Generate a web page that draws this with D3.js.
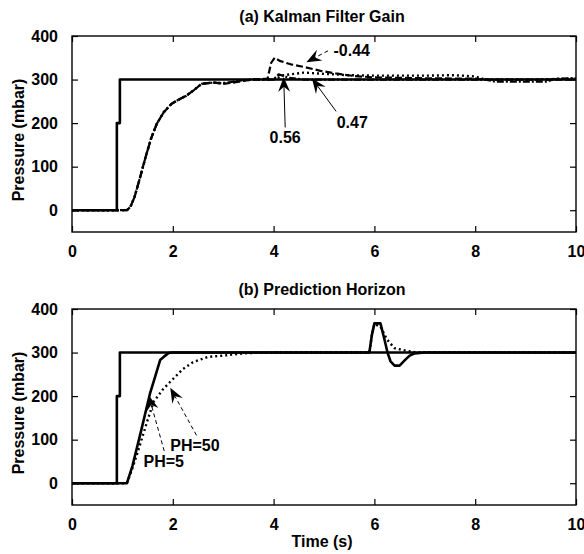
<!DOCTYPE html>
<html>
<head>
<meta charset="utf-8">
<script src="https://cdn.jsdelivr.net/npm/d3@7"></script>
<style>
  html, body { margin: 0; padding: 0; background: #fff; }
  svg { display: block; }
  text { font-family: "Liberation Sans", Arial, sans-serif; font-weight: bold; fill: #000; }
</style>
</head>
<body>
<script>
// ---------- data ----------
const xTicks = [0, 2, 4, 6, 8, 10];
const yTicks = [0, 100, 200, 300, 400];
const xDomain = [0, 10];
const yDomain = [-50, 400];

const titles = ["(a) Kalman Filter Gain", "(b) Prediction Horizon"];
const yLabel = "Pressure (mbar)";
const xLabel = "Time (s)";

// setpoint (both panels)
const setT = [0, 0.89, 0.89, 0.95, 0.95, 10];
const setP = [0, 0, 200, 200, 300, 300];

// panel (a): Kalman filter gain responses
const k044T = [0, 1.09, 1.16, 1.24, 1.35, 1.46, 1.57, 1.68, 1.82, 1.97, 2.12, 2.27, 2.42, 2.57, 2.7, 2.83, 3.0, 3.2, 3.4, 3.6, 3.88, 3.95, 4.02, 4.12, 4.34, 4.64, 4.93, 5.23, 5.6, 6.0, 7.0, 8.0, 8.2, 10];
const k044P = [0, 0, 8, 30, 75, 122, 165, 198, 225, 244, 254, 263, 276, 290, 292, 293, 290, 293, 297, 300, 302, 338, 350, 343, 335, 328, 320, 314, 308, 305, 303, 302, 300, 300];

const k047T = [0, 1.09, 1.16, 1.24, 1.35, 1.46, 1.57, 1.68, 1.82, 1.97, 2.12, 2.27, 2.42, 2.57, 2.7, 2.83, 3.0, 3.2, 3.4, 3.6, 4.0, 4.2, 4.6, 5.0, 5.5, 6.0, 7.0, 7.6, 8.0, 8.2, 9.0, 10];
const k047P = [0, 0, 8, 30, 75, 122, 165, 198, 225, 244, 254, 263, 276, 290, 292, 293, 292, 294, 298, 300, 300, 310, 316, 313, 310, 309, 309, 310, 307, 300, 300, 302];

const k056T = [0, 1.09, 1.16, 1.24, 1.35, 1.46, 1.57, 1.68, 1.82, 1.97, 2.12, 2.27, 2.42, 2.57, 2.7, 2.83, 3.0, 3.2, 3.4, 3.6, 4.0, 4.1, 4.3, 4.6, 5.0, 6.0, 8.2, 8.4, 9.4, 9.6, 10];
const k056P = [0, 0, 8, 30, 75, 122, 165, 198, 225, 244, 254, 263, 276, 290, 292, 293, 291, 295, 299, 300, 300, 312, 304, 300, 300, 300, 300, 295, 295, 302, 303];

// panel (b): prediction horizon responses
const ph5T = [0, 1.09, 1.2, 1.36, 1.55, 1.65, 1.75, 1.85, 1.92, 2.0, 5.9, 5.95, 6.0, 6.12, 6.2, 6.26, 6.32, 6.4, 6.5, 6.6, 6.7, 6.8, 7.0, 10];
const ph5P = [0, 0, 40, 115, 207, 245, 283, 293, 299, 300, 300, 340, 367, 367, 330, 300, 280, 270, 270, 282, 293, 298, 300, 300];

const ph50T = [0, 1.09, 1.2, 1.3, 1.5, 1.62, 1.8, 1.95, 2.2, 2.4, 2.7, 3.0, 3.5, 4.0, 5.9, 5.95, 6.0, 6.12, 6.25, 6.4, 6.6, 6.8, 10];
const ph50P = [0, 0, 35, 70, 145, 187, 215, 233, 262, 278, 290, 293, 299, 300, 300, 340, 365, 360, 330, 310, 305, 301, 300];

// annotations: label text, label position, arrow tail, arrow tip (data units)
const annoA_text = ["0.56", "0.47", "-0.44"];
const annoA_lx = [4.23, 5.56, 5.55];
const annoA_ly = [169, 203, 369];
const annoA_tail = [[4.23, 190], [5.24, 227], [5.08, 366]];
const annoA_tip = [[4.20, 306], [4.76, 303], [4.65, 340]];
const annoA_dashed = [false, false, true];

const annoB_text = ["PH=5", "PH=50"];
const annoB_lx = [1.82, 2.44];
const annoB_ly = [52, 88];
const annoB_tail = [[1.83, 74], [2.47, 110]];
const annoB_tip = [[1.52, 202], [1.95, 219]];
const annoB_dashed = [true, true];

// ---------- layout ----------
const W = 584, H = 554;
const left = 72, right = 576;
const panels = [
  { top: 36, bottom: 232, title: titles[0],
    series: [
      { t: setT, p: setP, width: 2.6, dash: null },
      { t: k056T, p: k056P, width: 2.2, dash: "7,2,2,2" },
      { t: k047T, p: k047P, width: 2.4, dash: "2,3" },
      { t: k044T, p: k044P, width: 2.2, dash: "7,3" }
    ],
    anno: { text: annoA_text, lx: annoA_lx, ly: annoA_ly, tail: annoA_tail, tip: annoA_tip, dashed: annoA_dashed },
    xlabel: false },
  { top: 309, bottom: 505, title: titles[1],
    series: [
      { t: setT, p: setP, width: 2.6, dash: null },
      { t: ph50T, p: ph50P, width: 2.4, dash: "2,3" },
      { t: ph5T, p: ph5P, width: 2.6, dash: null }
    ],
    anno: { text: annoB_text, lx: annoB_lx, ly: annoB_ly, tail: annoB_tail, tip: annoB_tip, dashed: annoB_dashed },
    xlabel: true }
];

const svg = d3.select("body").append("svg").attr("width", W).attr("height", H);

panels.forEach(pn => {
  const x = d3.scaleLinear().domain(xDomain).range([left, right]);
  const y = d3.scaleLinear().domain(yDomain).range([pn.bottom, pn.top]);
  const g = svg.append("g");

  // clip
  const cid = "clip" + pn.top;
  svg.append("clipPath").attr("id", cid).append("rect")
    .attr("x", left).attr("y", pn.top).attr("width", right - left).attr("height", pn.bottom - pn.top);

  // series
  const line = d3.line().x(d => x(d[0])).y(d => y(d[1]));
  const sg = g.append("g").attr("clip-path", `url(#${cid})`);
  pn.series.forEach(s => {
    const pts = s.t.map((t, i) => [t, s.p[i]]);
    sg.append("path").datum(pts).attr("d", line)
      .attr("fill", "none").attr("stroke", "#000")
      .attr("stroke-width", s.width)
      .attr("stroke-linejoin", "round")
      .attr("stroke-dasharray", s.dash);
  });

  // axes (inward ticks, box)
  const tl = -6;
  g.append("g").attr("transform", `translate(0,${pn.bottom})`)
    .call(d3.axisBottom(x).tickValues(xTicks).tickSize(tl).tickPadding(14).tickFormat(d3.format("d")))
    .call(a => a.select(".domain").remove());
  g.append("g").attr("transform", `translate(0,${pn.top})`)
    .call(d3.axisTop(x).tickValues(xTicks).tickSize(tl).tickFormat(""))
    .call(a => a.select(".domain").remove());
  g.append("g").attr("transform", `translate(${left},0)`)
    .call(d3.axisLeft(y).tickValues(yTicks).tickSize(tl).tickPadding(14).tickFormat(d3.format("d")))
    .call(a => a.select(".domain").remove());
  g.append("g").attr("transform", `translate(${right},0)`)
    .call(d3.axisRight(y).tickValues(yTicks).tickSize(tl).tickFormat(""))
    .call(a => a.select(".domain").remove());
  g.selectAll(".tick line").attr("stroke", "#000").attr("stroke-width", 1.2);
  g.selectAll(".tick text").style("font-size", "16px").style("font-family", "'Liberation Sans', Arial, sans-serif").style("font-weight", "bold").attr("fill", "#000");

  g.append("rect").attr("x", left).attr("y", pn.top)
    .attr("width", right - left).attr("height", pn.bottom - pn.top)
    .attr("fill", "none").attr("stroke", "#000").attr("stroke-width", 1.4);

  // title
  g.append("text").attr("x", (left + right) / 2 - 2).attr("y", pn.top - 14)
    .attr("text-anchor", "middle").style("font-size", "16px").text(pn.title);

  // y label
  g.append("text")
    .attr("transform", `translate(24,${(pn.top + pn.bottom) / 2 + 6}) rotate(-90)`)
    .attr("text-anchor", "middle").style("font-size", "16px").text(yLabel);

  if (pn.xlabel) {
    g.append("text").attr("x", (left + right) / 2 - 2).attr("y", pn.bottom + 42)
      .attr("text-anchor", "middle").style("font-size", "16px").text(xLabel);
  }

  // annotations
  const an = pn.anno;
  an.text.forEach((txt, i) => {
    const x0 = x(an.tail[i][0]), y0 = y(an.tail[i][1]);
    const x1 = x(an.tip[i][0]), y1 = y(an.tip[i][1]);
    const dx = x1 - x0, dy = y1 - y0, len = Math.hypot(dx, dy);
    const ux = dx / len, uy = dy / len, nx = -uy, ny = ux;
    const L = 15, Wd = 12;
    const bx = x1 - L * ux, by = y1 - L * uy;
    const mx = x1 - 0.65 * L * ux, my = y1 - 0.65 * L * uy;
    g.append("line").attr("x1", x0).attr("y1", y0).attr("x2", mx).attr("y2", my)
      .attr("stroke", "#000").attr("stroke-width", 1)
      .attr("stroke-dasharray", an.dashed[i] ? "4,3" : null);
    g.append("path")
      .attr("d", `M${x1},${y1}L${bx + nx * Wd / 2},${by + ny * Wd / 2}L${mx},${my}L${bx - nx * Wd / 2},${by - ny * Wd / 2}Z`)
      .attr("fill", "#000");
    g.append("text").attr("x", x(an.lx[i])).attr("y", y(an.ly[i]) + 6)
      .attr("text-anchor", "middle").style("font-size", "16px").text(txt);
  });
});
</script>
</body>
</html>
